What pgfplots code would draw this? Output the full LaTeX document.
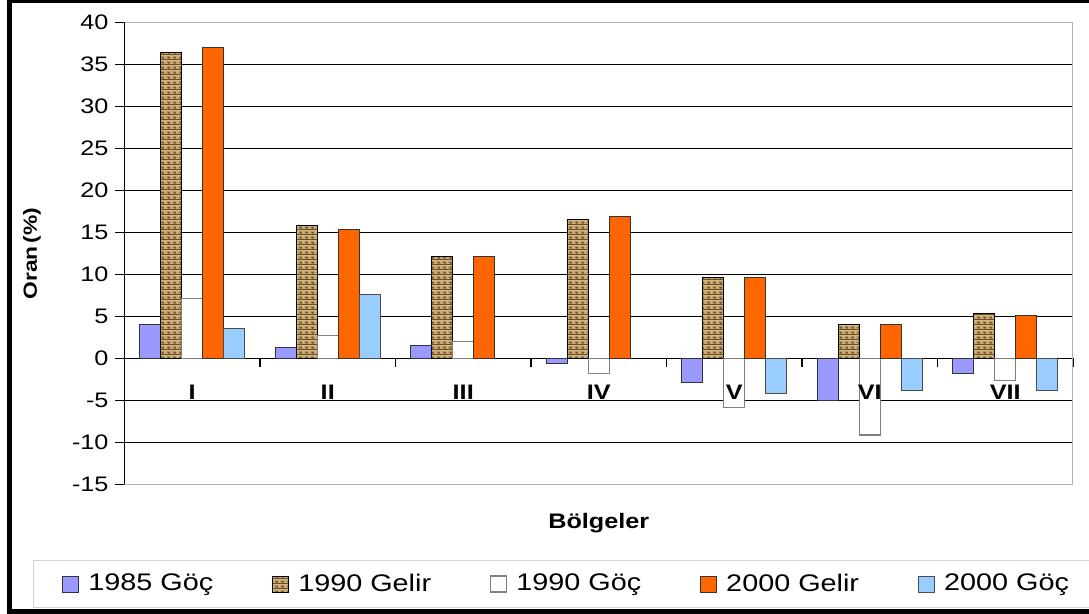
\documentclass[border=0pt]{standalone}
\usepackage{fontspec}
\setmainfont{Liberation Sans}[FakeStretch=1.2]
\usepackage{pgfplots}
\pgfplotsset{compat=1.18}
\usetikzlibrary{patterns}
\definecolor{cA}{HTML}{9999FF}
\definecolor{cB}{HTML}{D4B680}
\definecolor{cBd}{HTML}{6B4E22}
\definecolor{cD}{HTML}{FF6600}
\definecolor{cE}{HTML}{99CCFF}

\pgfdeclarepatternformonly{smallbricks}{\pgfpointorigin}{\pgfqpoint{3.2pt}{2.6pt}}{\pgfqpoint{3.2pt}{2.6pt}}{%
  \pgfsetlinewidth{0.55pt}%
  \pgfpathmoveto{\pgfqpoint{0pt}{0.4pt}}\pgfpathlineto{\pgfqpoint{3.2pt}{0.4pt}}%
  \pgfpathmoveto{\pgfqpoint{0.4pt}{1.7pt}}\pgfpathlineto{\pgfqpoint{2.4pt}{1.7pt}}%
  \pgfpathmoveto{\pgfqpoint{1.6pt}{0.4pt}}\pgfpathlineto{\pgfqpoint{1.6pt}{1.7pt}}%
  \pgfusepath{stroke}}

\pgfplotstableread{
x v
1 4.1
2 1.3
3 1.5
4 -0.6
5 -2.85
6 -4.95
7 -1.8
}\tA
\pgfplotstableread{
x v
1 36.4
2 15.8
3 12.1
4 16.5
5 9.6
6 4.0
7 5.4
}\tB
\pgfplotstableread{
x v
1 7.1
2 2.7
3 2.0
4 -1.8
5 -5.8
6 -9.1
7 -2.6
}\tC
\pgfplotstableread{
x v
1 37.0
2 15.3
3 12.1
4 16.9
5 9.6
6 4.0
7 5.1
}\tD
\pgfplotstableread{
x v
1 3.6
2 7.6
5 -4.2
6 -3.8
7 -3.8
}\tE

\begin{document}
\begin{tikzpicture}
\useasboundingbox (0,0) rectangle (544.5pt,307pt);
\draw[gray!35] (16.5pt,3.2pt) rectangle (560pt,27pt);
\begin{axis}[
  at={(62.25pt,64.75pt)}, anchor=south west,
  scale only axis, width=474.25pt, height=231pt,
  ybar=0pt, bar width=10.5pt,
  xmin=0.5, xmax=7.5, ymin=-15, ymax=40,
  enlargelimits=false,
  axis x line=middle, axis y line=left,
  axis line style={-, black, line width=0.6pt},
  tick align=outside,
  ytick={-15,-10,...,40},
  ymajorgrids, major grid style={black, line width=0.5pt},
  xtick={0.5,1.5,...,7.5}, xticklabels={},
  major tick length=4.5pt,
  ytick style={black, line width=0.6pt},
  xtick style={black, line width=0.6pt},
  /pgf/number format/assume math mode=true,
  yticklabel style={font=\fontsize{10.5}{12}\selectfont},
  xlabel={Bölgeler}, ylabel={Oran\,(\%)},
  every axis x label/.style={at={(axis description cs:0.5,0)}, anchor=center, yshift=-19.5pt, font=\fontsize{10.5}{12}\bfseries},
  every axis y label/.style={at={(axis description cs:-0.0975,0.5)}, rotate=90, anchor=center, font=\fontsize{9.5}{12}\bfseries},
  legend image code/.code={\draw[#1] (0pt,-4pt) rectangle (8pt,4pt); \path (10.5pt,0pt);},
  legend columns=5,
  legend style={at={(axis description cs:-0.0659,-0.2154)}, anchor=west, draw=none, fill=none,
    inner sep=0pt, font=\fontsize{12}{14}\selectfont,
    /tikz/every even column/.append style={column sep=27.5pt}},
]
\addplot[fill=cA, draw=black!80, line width=0.5pt] table[x=x,y=v]{\tA};
\addplot[fill=cB, draw=black, line width=0.5pt, postaction={pattern=smallbricks, pattern color=cBd}] table[x=x,y=v]{\tB};
\addplot[fill=white, draw=gray, line width=0.6pt] table[x=x,y=v]{\tC};
\addplot[fill=cD, draw=black!80, line width=0.5pt] table[x=x,y=v]{\tD};
\addplot[fill=cE, draw=black!70, line width=0.5pt] table[x=x,y=v]{\tE};
\legend{1985 Göç,1990 Gelir,1990 Göç,2000 Gelir,2000 Göç}
\draw[gray!60, line width=0.6pt] (rel axis cs:0,1) -- (rel axis cs:1,1) -- (rel axis cs:1,0) -- (rel axis cs:0,0);
\draw[black, line width=0.6pt] (rel axis cs:0,0) -- (rel axis cs:0,1);
\foreach \i/\l in {1/I,2/II,3/III,4/IV,5/V,6/VI,7/VII}{
  \edef\tmp{\noexpand\node[anchor=north, yshift=-9.7pt, font=\noexpand\fontsize{10.5}{12}\noexpand\bfseries] at (axis cs:\i,0) {\l};}
  \tmp
}
\end{axis}
\draw[black, line width=2.2pt] (560pt,306.4pt) -- (4.75pt,306.4pt) -- (4.75pt,1.2pt) -- (560pt,1.2pt);
\end{tikzpicture}
\end{document}
